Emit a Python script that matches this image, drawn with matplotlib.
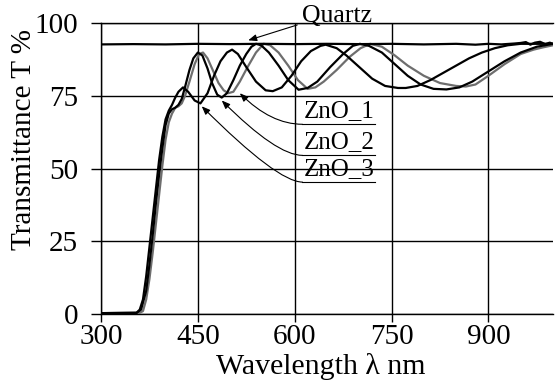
import matplotlib
matplotlib.use('Agg')
import matplotlib.pyplot as plt

plt.rcParams['font.family'] = ['Liberation Serif', 'DejaVu Serif']

# quartz substrate
quartz_wl = [300, 350, 400, 450, 500, 550, 600, 650, 700, 750, 800, 850, 880, 900, 920, 940, 950, 958, 965, 972, 980, 988, 995, 1000]
quartz_t = [92.8, 92.9, 92.8, 93.0, 92.9, 93.0, 92.9, 93.0, 92.9, 93.0, 92.8, 93.0, 92.7, 93.0, 92.8, 93.1, 93.3, 93.6, 92.7, 93.4, 93.7, 92.9, 93.4, 93.0]

# ZnO_3 (black, shortest period)
zno3_wl = [300, 355, 360, 365, 370, 375, 380, 385, 390, 395, 400, 405, 410, 415, 420, 427, 435, 445, 454,
           465, 475, 485, 495, 503, 512, 525, 540, 555, 566, 580, 595, 610, 625, 640, 648, 665, 680, 700,
           720, 740, 760, 772, 790, 810, 830, 850, 870, 890, 910, 930, 950, 975, 1000]
zno3_t = [0.3, 0.4, 1.5, 5, 13, 23, 33, 43, 53, 61, 67, 70, 72, 74.5, 76.5, 78, 76.5, 73.5, 72.5,
          76, 82, 87, 90, 91, 89.5, 85, 80, 77, 76.7, 78, 82, 87, 90.5, 92.3, 92.7, 91.5, 89, 85,
          81, 78.5, 77.8, 77.8, 78.5, 80.5, 83, 85.5, 88, 90, 91.5, 92.5, 93, 93, 93]

# ZnO_2 (black)
zno2_wl = [300, 355, 362, 370, 375, 380, 385, 390, 395, 400, 405, 410, 415, 420, 425, 430, 437, 443, 450,
           457, 465, 472, 480, 487, 495, 505, 515, 525, 533, 540, 548, 560, 575, 590, 606, 620, 635,
           655, 675, 690, 701, 715, 735, 755, 775, 795, 815, 835, 855, 875, 900, 925, 950, 975, 1000]
zno2_t = [0.3, 0.4, 1.5, 8, 17, 27, 38, 48, 57, 65, 69, 70.5, 71, 72, 74, 78, 84, 88, 90,
          89, 84.5, 79.5, 75.5, 74.5, 76, 80.5, 85.5, 89.5, 92, 93, 92.5, 90, 85.5, 80.5, 77.2, 77.8, 80,
          85, 89.5, 92.3, 93, 92.3, 90, 86, 82, 79, 77.5, 77.3, 78, 80, 83.5, 87, 90, 92, 93]

# ZnO_1 (grey)
zno1_wl = [300, 360, 365, 370, 375, 380, 385, 390, 395, 400, 405, 410, 415, 420, 425, 430, 437, 445, 452,
           458, 465, 473, 482, 490, 497, 505, 515, 527, 540, 552, 562, 575, 590, 605, 620, 632, 645,
           665, 685, 702, 717, 735, 755, 775, 800, 825, 850, 865, 880, 900, 925, 950, 970, 985, 1000]
zno1_t = [0.3, 0.4, 1, 5, 12, 21, 31, 41, 51, 60, 66, 69, 71, 71.5, 72.5, 75, 80, 86, 89.5,
          90, 88, 84, 79.5, 77, 76, 76.5, 80, 85, 90, 93, 92.5, 90, 85.5, 80.5, 77.5, 78, 80,
          84, 88.5, 91.5, 93, 92, 89, 85.5, 82, 79.5, 78.5, 78.3, 79, 82, 86, 89.5, 91, 91.8, 92.5]

fig = plt.figure(figsize=(5.58, 3.85), dpi=100)
ax = fig.add_axes([0.181, 0.1844, 0.810, 0.7546])

ax.plot(zno1_wl, zno1_t, color='#6e6e6e', lw=1.6, zorder=3)
ax.plot(zno2_wl, zno2_t, color='black', lw=1.6, zorder=4)
ax.plot(zno3_wl, zno3_t, color='black', lw=1.6, zorder=5)
ax.plot(quartz_wl, quartz_t, color='black', lw=1.6, zorder=6)

ax.set_xlim(300, 1000)
ax.set_ylim(0, 100)
ax.set_xticks([300, 450, 600, 750, 900])
ax.set_yticks([0, 25, 50, 75, 100])
ax.grid(True, color='black', lw=1.0)
ax.set_axisbelow(True)
ax.spines['right'].set_visible(False)
for s in ['left', 'bottom', 'top']:
    ax.spines[s].set_linewidth(1.0)
ax.tick_params(axis='x', labelsize=21, length=6, width=1.0, pad=1)
ax.tick_params(axis='y', labelsize=21, length=7.5, width=1.0, pad=9)

ax.set_xlabel('Wavelength λ nm', fontsize=21.5)
ax.set_ylabel('Transmittance T %', fontsize=21)
ax.xaxis.set_label_coords(0.487, -0.135)
ax.yaxis.set_label_coords(-0.142, 0.60)

# labels
ax.text(666, 100.4, 'Quartz', fontsize=18.5, ha='center', va='baseline', clip_on=False)
ax.annotate('', xy=(528, 94.2), xytext=(604, 99.5),
            arrowprops=dict(arrowstyle='-|>,head_length=0.5,head_width=0.2', color='black', lw=0.8,
                            shrinkA=0, shrinkB=0), annotation_clip=False)

labels = ['ZnO_1', 'ZnO_2', 'ZnO_3']
tips = [(515, 76.0), (487, 73.5), (456, 71.5)]
line_t = [65.3, 54.6, 45.4]
for lab, tip, yt in zip(labels, tips, line_t):
    ax.text(669, yt + 2.6, lab, fontsize=18, ha='center', va='baseline')
    ax.plot([612, 724], [yt, yt], color='black', lw=0.8)
    ax.annotate('', xy=tip, xytext=(612, yt),
                arrowprops=dict(arrowstyle='-|>,head_length=0.5,head_width=0.2', color='black', lw=0.8,
                                shrinkA=0, shrinkB=0,
                                connectionstyle='angle3,angleA=0,angleB=-45'))

fig.savefig('out.png', dpi=100)
